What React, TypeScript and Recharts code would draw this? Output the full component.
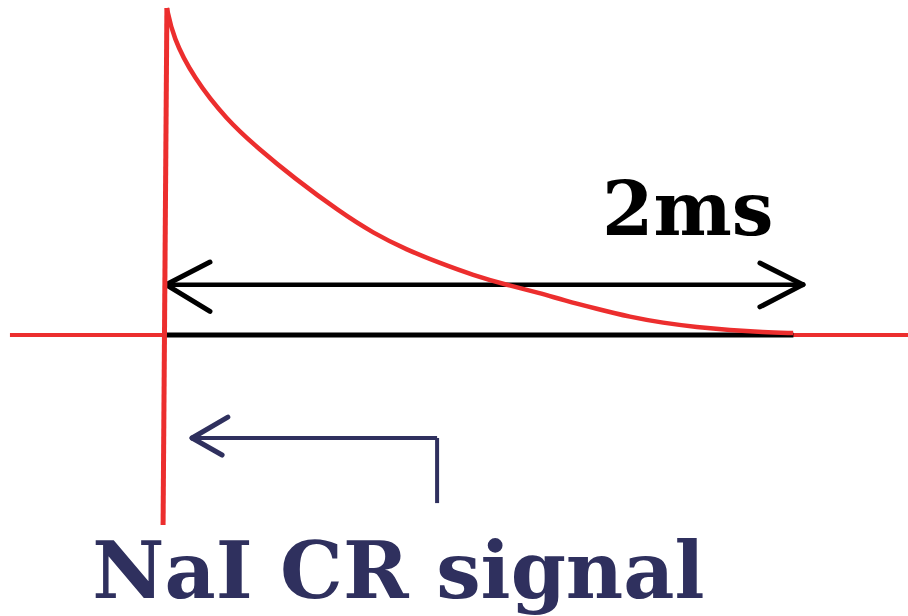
import { ComposedChart, Line, XAxis, YAxis, ReferenceLine, Scatter } from "recharts";

const RED = "#ec2e2e";
const NAVY = "#2f305e";
const SERIF = "'DejaVu Serif', serif";

// time in ms on x, amplitude (peak = 1) on y
const spikeT = [-0.006, 0.006];
const spikeV = [-0.581, 1.0];

const decayT = [0.006, 0.025, 0.088, 0.194, 0.298, 0.401, 0.549, 0.652, 0.759, 0.862, 0.966, 1.072, 1.176, 1.248, 1.354, 1.458, 1.561, 1.668, 1.771, 1.875, 1.969];
const decayV = [1.0, 0.911, 0.789, 0.657, 0.566, 0.483, 0.376, 0.312, 0.26, 0.22, 0.183, 0.153, 0.128, 0.107, 0.08, 0.055, 0.037, 0.024, 0.015, 0.009, 0.006];

const spike = spikeT.map((t, i) => ({ t, v: spikeV[i] }));
const decay = decayT.map((t, i) => ({ t, v: decayV[i] }));

// 2 ms span marker
const spanStart = 0.003;
const spanEnd = 2.0;
const spanLevel = 0.154;
const baselineEnd = 1.97;

// pointer to the signal
const pointerTip = { x: 0.085, y: -0.315 };
const pointerCorner = { x: 0.853, y: -0.315 };
const pointerFoot = { x: 0.853, y: -0.514 };
const pointerArms = [{ x: 0.197, y: -0.251 }, { x: 0.179, y: -0.367 }];

const labels = [
  { t: 1.37, v: 0.306, text: "2ms", color: "#000", size: 74 },
  { t: -0.228, v: -0.804, text: "NaI CR signal", color: NAVY, size: 79 },
];

const TextMark = (props: any) => {
  const { cx, cy, payload } = props;
  return (
    <text x={cx} y={cy} fill={payload.color} fontSize={payload.size} fontWeight="bold" fontFamily={SERIF}>
      {payload.text}
    </text>
  );
};

export default function App() {
  return (
    <div style={{ position: "absolute", left: 0, top: 0, background: "#fff" }}>
      <ComposedChart width={908} height={616} margin={{ top: 0, right: 0, bottom: 0, left: 0 }}>
        <XAxis type="number" dataKey="t" domain={[-0.5172, 2.3292]} allowDataOverflow hide />
        <YAxis type="number" dataKey="v" domain={[-0.8593, 1.0245]} allowDataOverflow hide />

        <ReferenceLine segment={[{ x: -0.486, y: 0 }, { x: 2.3292, y: 0 }]} stroke={RED} strokeWidth={4} />
        <ReferenceLine segment={[{ x: spanStart, y: 0 }, { x: baselineEnd, y: 0 }]} stroke="#000" strokeWidth={5} />

        <ReferenceLine segment={[{ x: spanStart, y: spanLevel }, { x: spanEnd, y: spanLevel }]} stroke="#000" strokeWidth={4.5} />
        <ReferenceLine segment={[{ x: spanStart, y: spanLevel }, { x: 0.141, y: 0.223 }]} stroke="#000" strokeWidth={5} strokeLinecap="round" />
        <ReferenceLine segment={[{ x: spanStart, y: spanLevel }, { x: 0.141, y: 0.072 }]} stroke="#000" strokeWidth={5} strokeLinecap="round" />
        <ReferenceLine segment={[{ x: spanEnd, y: spanLevel }, { x: 1.865, y: 0.22 }]} stroke="#000" strokeWidth={5} strokeLinecap="round" />
        <ReferenceLine segment={[{ x: spanEnd, y: spanLevel }, { x: 1.865, y: 0.086 }]} stroke="#000" strokeWidth={5} strokeLinecap="round" />

        <ReferenceLine segment={[pointerTip, pointerCorner]} stroke={NAVY} strokeWidth={4} />
        <ReferenceLine segment={[pointerCorner, pointerFoot]} stroke={NAVY} strokeWidth={4} />
        {pointerArms.map((arm, i) => (
          <ReferenceLine key={i} segment={[pointerTip, arm]} stroke={NAVY} strokeWidth={5} strokeLinecap="round" />
        ))}

        <Line data={spike} dataKey="v" type="linear" stroke={RED} strokeWidth={5} dot={false} isAnimationActive={false} />
        <Line data={decay} dataKey="v" type="basis" stroke={RED} strokeWidth={4.5} dot={false} isAnimationActive={false} />

        <Scatter data={labels} dataKey="v" shape={TextMark} isAnimationActive={false} />
      </ComposedChart>
    </div>
  );
}
